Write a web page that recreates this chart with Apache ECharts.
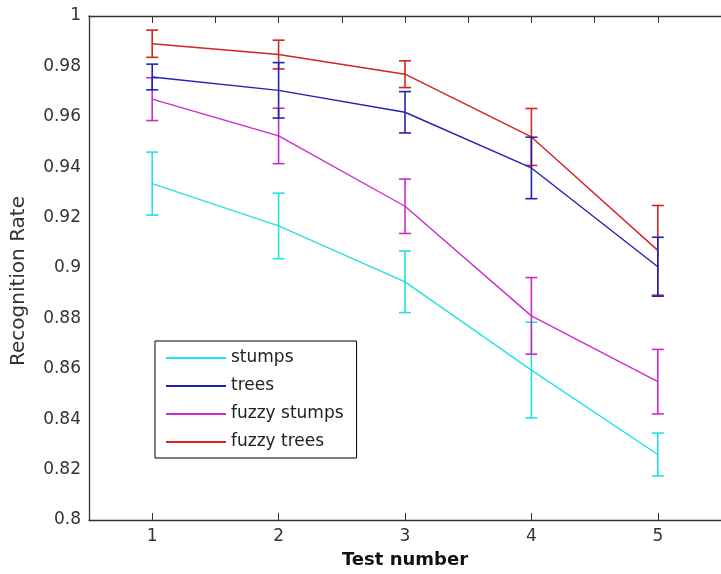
<!DOCTYPE html>
<html>
<head>
<meta charset="utf-8">
<script src="https://cdn.jsdelivr.net/npm/echarts@6/dist/echarts.min.js"></script>
<style>
  html, body { margin: 0; padding: 0; background: #fff; }
  #chart { width: 721px; height: 574px; }
</style>
</head>
<body>
<div id="chart"></div>
<script>
// test numbers and tick values
var tests = [1, 2, 3, 4, 5];
var yTicks = [0.8, 0.82, 0.84, 0.86, 0.88, 0.9, 0.92, 0.94, 0.96, 0.98, 1];

// mean recognition rate per test
var stumps      = [0.9335, 0.9167, 0.8945, 0.8595, 0.826];
var trees       = [0.9758, 0.9705, 0.9618, 0.9397, 0.9005];
var fuzzyStumps = [0.967, 0.9524, 0.9245, 0.881, 0.8549];
var fuzzyTrees  = [0.989, 0.9847, 0.9769, 0.952, 0.907];

// half length of the error bars
var stumpsErr      = [0.0125, 0.013, 0.0122, 0.019, 0.0085];
var treesErr       = [0.0051, 0.011, 0.0082, 0.0122, 0.0117];
var fuzzyStumpsErr = [0.0085, 0.011, 0.0108, 0.0152, 0.0128];
var fuzzyTreesErr  = [0.0054, 0.0057, 0.0053, 0.0113, 0.0178];

var names = ['stumps', 'trees', 'fuzzy stumps', 'fuzzy trees'];

var myChart = echarts.init(document.getElementById('chart'));

var font = 'DejaVu Sans';
var axisCol = '#333';

function lineSeries(name, vals, color, z) {
  return {
    name: name,
    type: 'line',
    symbol: 'none',
    z: z,
    lineStyle: { color: color, width: 1.4 },
    itemStyle: { color: color },
    data: tests.map(function (t, i) { return [t, vals[i]]; })
  };
}

function errSeries(name, vals, errs, color, z) {
  return {
    name: name + ' err',
    type: 'custom',
    z: z,
    renderItem: function (params, api) {
      var x = api.value(0);
      var lo = api.coord([x, api.value(1)]);
      var hi = api.coord([x, api.value(2)]);
      var w = 6;
      var st = { stroke: color, lineWidth: 1.6 };
      return {
        type: 'group',
        children: [
          { type: 'line', shape: { x1: lo[0], y1: lo[1], x2: hi[0], y2: hi[1] }, style: st },
          { type: 'line', shape: { x1: lo[0] - w, y1: lo[1], x2: lo[0] + w, y2: lo[1] }, style: st },
          { type: 'line', shape: { x1: hi[0] - w, y1: hi[1], x2: hi[0] + w, y2: hi[1] }, style: st }
        ]
      };
    },
    data: tests.map(function (t, i) { return [t, vals[i] - errs[i], vals[i] + errs[i]]; })
  };
}

var colors = {
  stumps: '#22e2e2',
  trees: '#2222b4',
  fuzzyStumps: '#cc2ccc',
  fuzzyTrees: '#d42424'
};

var option = {
  animation: false,
  backgroundColor: '#fff',
  grid: { left: 89, top: 16, width: 639, height: 504 },
  legend: {
    data: names,
    orient: 'vertical',
    left: 155,
    top: 341,
    icon: 'rect',
    itemWidth: 60,
    itemHeight: 2,
    itemGap: 10,
    padding: [8, 13, 7, 11],
    borderColor: '#000',
    borderWidth: 1,
    borderRadius: 0,
    backgroundColor: '#fff',
    textStyle: { fontFamily: font, fontSize: 17, color: '#222', lineHeight: 18 }
  },
  xAxis: [{
    type: 'value',
    position: 'bottom',
    min: 0.5,
    max: 5.5,
    name: 'Test number',
    nameLocation: 'middle',
    nameGap: 31,
    nameTextStyle: { fontFamily: font, fontSize: 18, fontWeight: 'bold', color: '#111' },
    axisLine: { lineStyle: { color: axisCol, width: 1.3 } },
    axisTick: { inside: true, length: 7, customValues: tests, lineStyle: { color: axisCol } },
    axisLabel: { customValues: tests, margin: 8, fontFamily: font, fontSize: 17, color: '#333' },
    splitLine: { show: false }
  }, {
    type: 'value',
    position: 'top',
    min: 0.5,
    max: 5.5,
    interval: 0.5,
    axisLine: { lineStyle: { color: axisCol, width: 1.3 } },
    axisTick: { inside: true, length: 7, lineStyle: { color: axisCol } },
    axisLabel: { show: false },
    splitLine: { show: false }
  }],
  yAxis: {
    type: 'value',
    min: yTicks[0],
    max: yTicks[yTicks.length - 1],
    interval: 0.02,
    name: 'Recognition Rate',
    nameLocation: 'middle',
    nameGap: 60,
    nameTextStyle: { fontFamily: font, fontSize: 20, color: '#333', padding: [0, 26, 0, 0] },
    axisLine: { show: true, lineStyle: { color: axisCol, width: 1.3 } },
    axisTick: { show: false },
    axisLabel: { margin: 8, fontFamily: font, fontSize: 17, color: '#333' },
    splitLine: { show: false }
  },
  series: [
    lineSeries('stumps', stumps, colors.stumps, 2),
    errSeries('stumps', stumps, stumpsErr, colors.stumps, 2),
    lineSeries('fuzzy stumps', fuzzyStumps, colors.fuzzyStumps, 3),
    errSeries('fuzzy stumps', fuzzyStumps, fuzzyStumpsErr, colors.fuzzyStumps, 3),
    lineSeries('fuzzy trees', fuzzyTrees, colors.fuzzyTrees, 4),
    errSeries('fuzzy trees', fuzzyTrees, fuzzyTreesErr, colors.fuzzyTrees, 4),
    lineSeries('trees', trees, colors.trees, 5),
    errSeries('trees', trees, treesErr, colors.trees, 5)
  ]
};

myChart.setOption(option);
</script>
</body>
</html>
